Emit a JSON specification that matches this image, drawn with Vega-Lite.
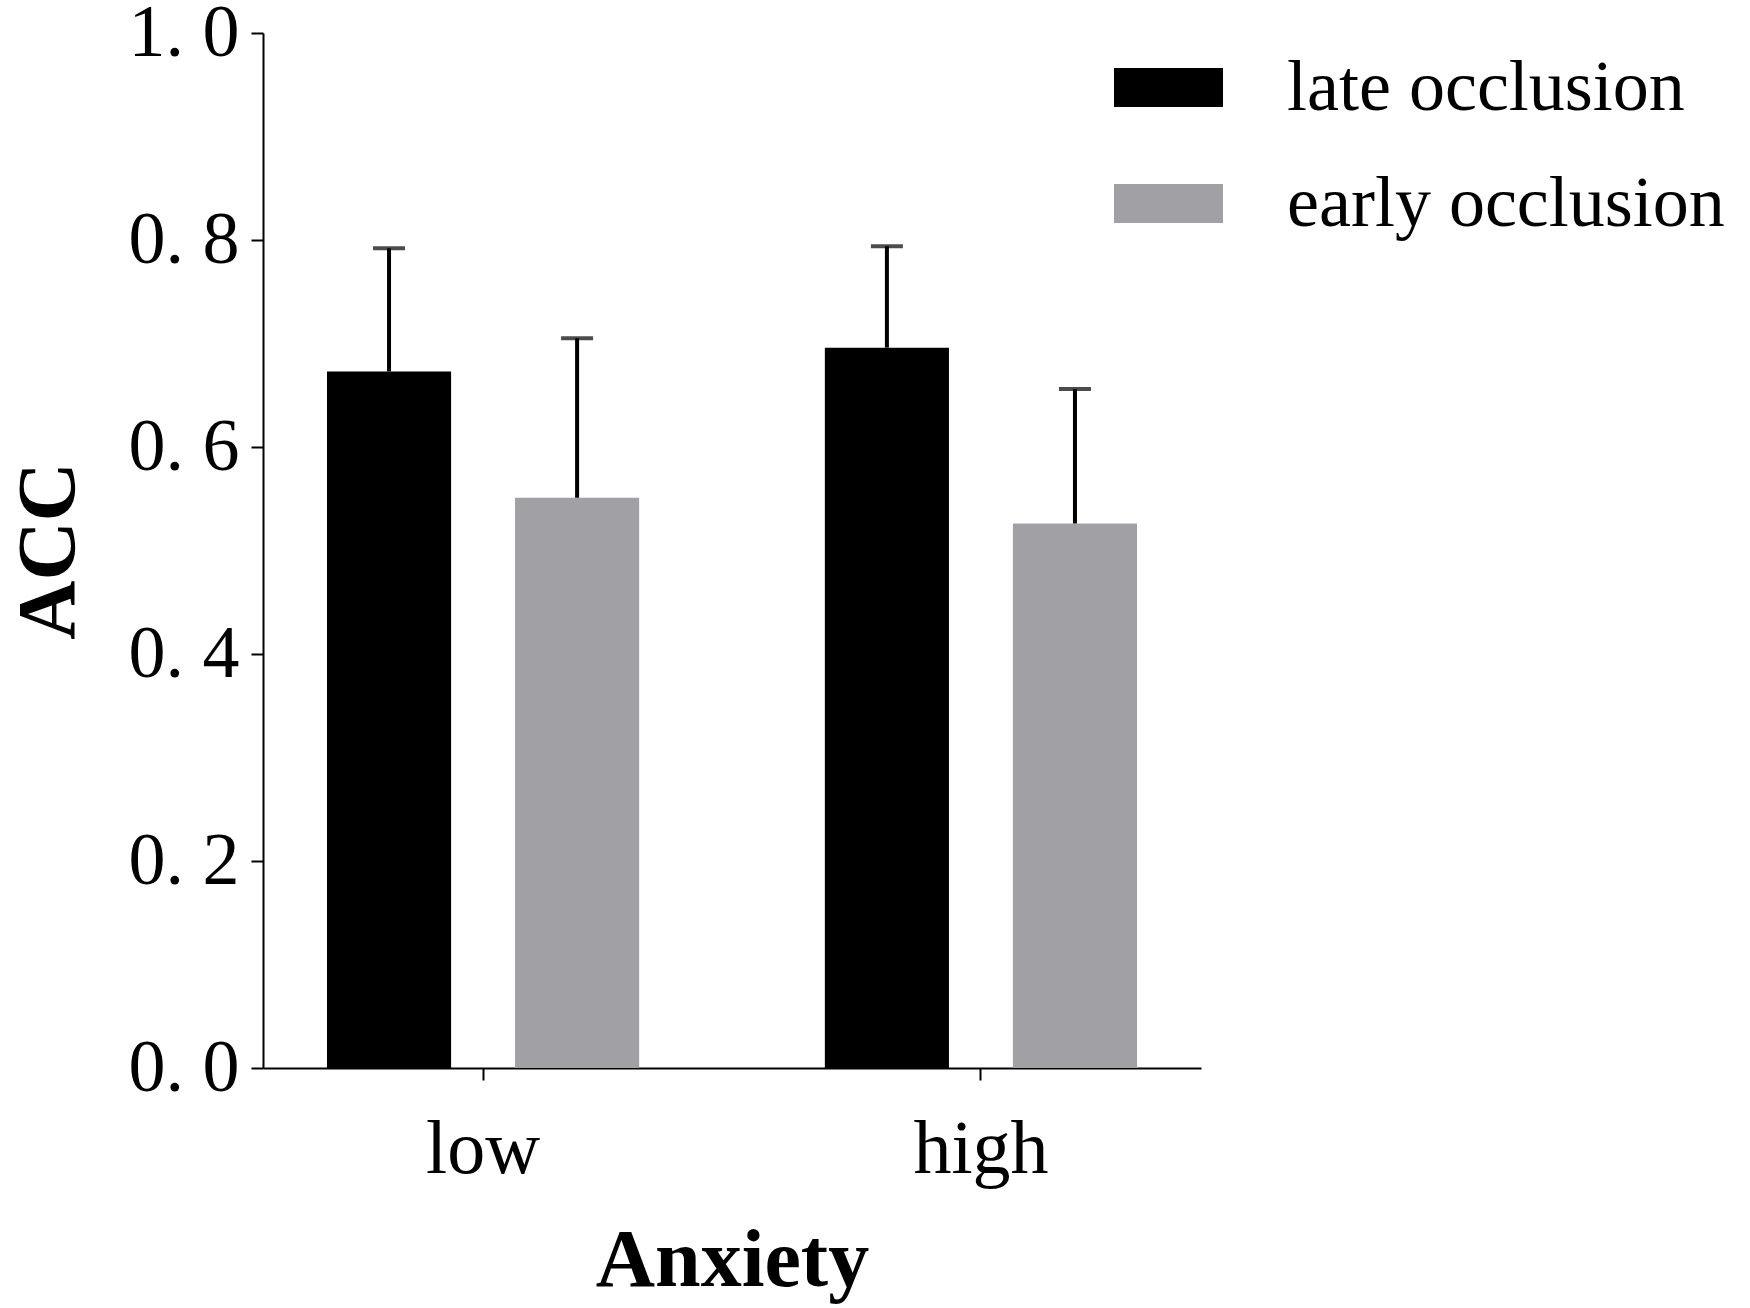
{
  "$schema": "https://vega.github.io/schema/vega-lite/v6.json",
  "autosize": {"type": "none"},
  "padding": {"left": 263, "top": 33, "right": 549, "bottom": 240},
  "width": 938,
  "height": 1035,
  "background": "white",
  "data": {
    "values": [
      {"anxiety": "low", "occlusion": "late occlusion", "acc": 0.673, "upper": 0.792},
      {"anxiety": "low", "occlusion": "early occlusion", "acc": 0.551, "upper": 0.705},
      {"anxiety": "high", "occlusion": "late occlusion", "acc": 0.696, "upper": 0.794},
      {"anxiety": "high", "occlusion": "early occlusion", "acc": 0.526, "upper": 0.656}
    ]
  },
  "config": {
    "view": {"stroke": null},
    "axis": {
      "domainColor": "black",
      "domainWidth": 2,
      "tickColor": "black",
      "tickWidth": 2,
      "tickSize": 12,
      "grid": false,
      "labelFont": "Liberation Serif",
      "labelColor": "black",
      "titleFont": "Liberation Serif",
      "titleFontWeight": "bold",
      "titleColor": "black"
    },
    "legend": {
      "labelFont": "Liberation Serif",
      "labelColor": "black"
    }
  },
  "encoding": {
    "x": {
      "field": "anxiety",
      "type": "nominal",
      "sort": ["low", "high"],
      "scale": {"paddingInner": 0.373, "paddingOuter": 0.1285},
      "axis": {
        "title": "Anxiety",
        "titleFontSize": 82,
        "titlePadding": 33,
        "labelFontSize": 76,
        "labelPadding": 32,
        "labelAngle": 0
      }
    },
    "xOffset": {
      "field": "occlusion",
      "type": "nominal",
      "sort": ["late occlusion", "early occlusion"],
      "scale": {"paddingInner": 0.34, "paddingOuter": 0}
    }
  },
  "layer": [
    {
      "mark": {"type": "bar"},
      "encoding": {
        "y": {
          "field": "acc",
          "type": "quantitative",
          "scale": {"domain": [0, 1], "nice": false},
          "axis": {
            "title": "ACC",
            "titleFontSize": 82,
            "titlePadding": 38,
            "labelFontSize": 74,
            "labelPadding": 12,
            "values": [0, 0.2, 0.4, 0.6, 0.8, 1.0],
            "labelExpr": "replace(format(datum.value, '.1f'), '.', '. ')"
          }
        },
        "color": {
          "field": "occlusion",
          "type": "nominal",
          "scale": {
            "domain": ["late occlusion", "early occlusion"],
            "range": ["#000000", "#a1a1a5"]
          },
          "legend": {
            "title": null,
            "orient": "none",
            "legendX": 851,
            "legendY": 0,
            "symbolType": "M-1,-0.36H1V0.36H-1Z",
            "symbolSize": 11881,
            "symbolStrokeWidth": 0,
            "labelFontSize": 72,
            "labelOffset": 64,
            "labelLimit": 0,
            "rowPadding": 25
          }
        }
      }
    },
    {
      "mark": {"type": "rule", "color": "black", "strokeWidth": 4},
      "encoding": {
        "y": {"field": "acc", "type": "quantitative"},
        "y2": {"field": "upper"}
      }
    },
    {
      "mark": {"type": "tick", "color": "black", "thickness": 4, "size": 32},
      "encoding": {
        "y": {"field": "upper", "type": "quantitative"}
      }
    }
  ]
}
